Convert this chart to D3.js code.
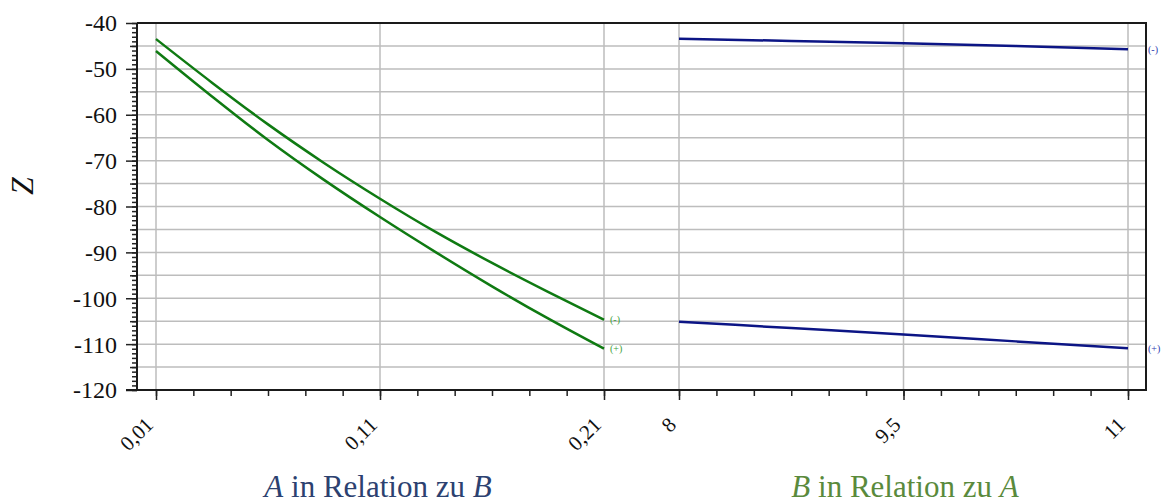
<!DOCTYPE html>
<html>
<head>
<meta charset="utf-8">
<script src="https://cdn.jsdelivr.net/npm/d3@7"></script>
<style>
  body { margin: 0; background: #fff; }
  svg { display: block; font-family: "Liberation Serif", "DejaVu Serif", serif; }
  .axis .domain { display: none; }
  .axis line { stroke: #222; stroke-width: 1.5; }
  .axis text { font-family: "Liberation Serif", serif; fill: #111; }
</style>
</head>
<body>
<svg id="chart"></svg>
<script>
// left panel: A in Relation zu B
const xA = [0.01, 0.035, 0.06, 0.085, 0.11, 0.135, 0.16, 0.185, 0.21];
const greenMinus = [-43.5, -53.0, -62.1, -70.5, -78.3, -85.6, -92.3, -98.6, -104.7];
const greenPlus = [-46.1, -56.0, -65.5, -74.2, -82.3, -90.0, -97.4, -104.4, -111.0];

// right panel: B in Relation zu A
const xB = [8, 8.75, 9.5, 10.25, 11];
const blueMinus = [-43.45, -43.9, -44.4, -45.0, -45.7];
const bluePlus = [-105.1, -106.5, -107.9, -109.4, -110.9];

const yTicks = [-40, -50, -60, -70, -80, -90, -100, -110, -120];
const xTicksA = [0.01, 0.11, 0.21];
const xTicksB = [8, 9.5, 11];

const config = {
  width: 1162,
  height: 504,
  left: 137, right: 1146, top: 23, bottom: 390,
  green: "#0f7a12",
  blue: "#0c1585",
  grid: "#bdbdbd"
};

const svg = d3.select("#chart")
  .attr("width", config.width)
  .attr("height", config.height);

const yScale = d3.scaleLinear().domain([-120, -40]).range([config.bottom, config.top]);
const xScaleA = d3.scaleLinear().domain([0.01, 0.21]).range([156, 604]);
const xScaleB = d3.scaleLinear().domain([8, 11]).range([679, 1128]);

const fmt = d => String(d).replace(".", ",");

// grid
svg.append("g")
  .selectAll("line")
  .data(d3.range(-115, -40, 5))
  .join("line")
  .attr("x1", config.left).attr("x2", config.right)
  .attr("y1", d => yScale(d)).attr("y2", d => yScale(d))
  .attr("stroke", config.grid).attr("stroke-width", 1.5);

const vgrid = xTicksA.map(d => xScaleA(d)).concat(xTicksB.map(d => xScaleB(d)));
svg.append("g")
  .selectAll("line")
  .data(vgrid)
  .join("line")
  .attr("x1", d => d).attr("x2", d => d)
  .attr("y1", config.top).attr("y2", config.bottom)
  .attr("stroke", config.grid).attr("stroke-width", 1.5);

// y axis: minor, middle and major ticks
svg.append("g")
  .attr("class", "axis")
  .attr("transform", `translate(${config.left},0)`)
  .call(d3.axisLeft(yScale).tickValues(d3.range(-120, -39, 1)).tickSize(5).tickFormat(""));
svg.append("g")
  .attr("class", "axis")
  .attr("transform", `translate(${config.left},0)`)
  .call(d3.axisLeft(yScale).tickValues(d3.range(-115, -40, 10)).tickSize(7).tickFormat(""));
svg.append("g")
  .attr("class", "axis")
  .attr("transform", `translate(${config.left},0)`)
  .call(d3.axisLeft(yScale).tickValues(yTicks).tickSize(11).tickPadding(9).tickFormat(d => String(d)))
  .selectAll("text")
  .style("font-size", "24px")
  .attr("dy", "0.33em");

// x axes
const minorA = d3.range(0, 13).map(i => 0.01 + i * 0.2 / 12);
const minorB = d3.range(0, 13).map(i => 8 + i * 0.25);

function drawX(scale, minor, major) {
  svg.append("g")
    .attr("class", "axis")
    .attr("transform", `translate(0,${config.bottom})`)
    .call(d3.axisBottom(scale).tickValues(minor).tickSize(6).tickFormat(""));
  const g = svg.append("g")
    .attr("class", "axis")
    .attr("transform", `translate(0,${config.bottom})`)
    .call(d3.axisBottom(scale).tickValues(major).tickSize(10).tickFormat(fmt));
  g.selectAll("text")
    .style("font-size", "21px")
    .attr("text-anchor", "end")
    .attr("transform", "translate(-2,36) rotate(-45)")
    .attr("y", 0).attr("dy", 0);
}
drawX(xScaleA, minorA, xTicksA);
drawX(xScaleB, minorB, xTicksB);

// frame
svg.append("path")
  .attr("d", `M${config.left},${config.top}H${config.right}V${config.bottom}H${config.left - 11}M${config.left},${config.top}V${config.bottom}`)
  .attr("fill", "none")
  .attr("stroke", "#1a1a1a")
  .attr("stroke-width", 2);

// series
const series = [
  { xs: xA, ys: greenMinus, scale: xScaleA, color: config.green, label: "(-)", lc: "#3aa03a", dx: 6 },
  { xs: xA, ys: greenPlus, scale: xScaleA, color: config.green, label: "(+)", lc: "#3aa03a", dx: 6 },
  { xs: xB, ys: blueMinus, scale: xScaleB, color: config.blue, label: "(-)", lc: "#2b3bb0", dx: 20 },
  { xs: xB, ys: bluePlus, scale: xScaleB, color: config.blue, label: "(+)", lc: "#2b3bb0", dx: 20 }
];

series.forEach(s => {
  const pts = s.xs.map((x, i) => [x, s.ys[i]]);
  const line = d3.line()
    .x(d => s.scale(d[0]))
    .y(d => yScale(d[1]))
    .curve(d3.curveMonotoneX);
  svg.append("path")
    .datum(pts)
    .attr("d", line)
    .attr("fill", "none")
    .attr("stroke", s.color)
    .attr("stroke-width", 2.5);
  const last = pts[pts.length - 1];
  svg.append("text")
    .attr("x", s.scale(last[0]) + s.dx)
    .attr("y", yScale(last[1]))
    .attr("dy", "0.35em")
    .style("font-size", "10px")
    .attr("fill", s.lc)
    .text(s.label);
});

// axis titles
svg.append("text")
  .attr("transform", "translate(33,186) rotate(-90)")
  .attr("text-anchor", "middle")
  .style("font-size", "32px")
  .style("font-style", "italic")
  .attr("fill", "#111")
  .text("Z");

const titleA = svg.append("text")
  .attr("x", 378).attr("y", 497)
  .attr("text-anchor", "middle")
  .style("font-size", "31px")
  .attr("fill", "#2c4170");
titleA.append("tspan").style("font-style", "italic").text("A");
titleA.append("tspan").text(" in Relation zu ");
titleA.append("tspan").style("font-style", "italic").text("B");

const titleB = svg.append("text")
  .attr("x", 905).attr("y", 497)
  .attr("text-anchor", "middle")
  .style("font-size", "31px")
  .attr("fill", "#5a8a3c");
titleB.append("tspan").style("font-style", "italic").text("B");
titleB.append("tspan").text(" in Relation zu ");
titleB.append("tspan").style("font-style", "italic").text("A");
</script>
</body>
</html>
